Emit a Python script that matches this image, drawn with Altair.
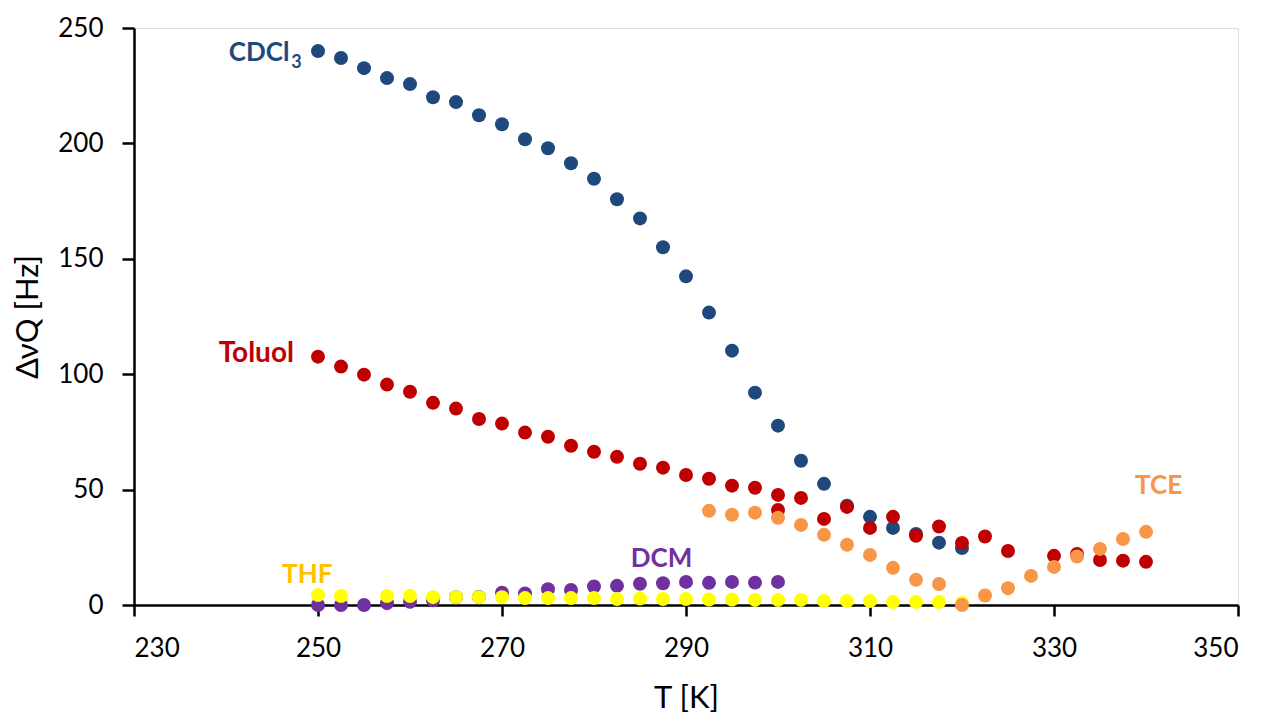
import altair as alt
import pandas as pd

# ---------------- data ----------------
series_names = ["CDCl3", "Toluol", "DCM", "THF", "TCE"]
series_colors = ["#1F497D", "#C00000", "#7030A0", "#FFFF00", "#F79646"]

cdcl3_T = [250, 252.5, 255, 257.5, 260, 262.5, 265, 267.5, 270, 272.5, 275, 277.5,
           280, 282.5, 285, 287.5, 290, 292.5, 295, 297.5, 300, 302.5, 305, 307.5,
           310, 312.5, 315, 317.5, 320]
cdcl3_v = [240, 237, 232.6, 228.3, 225.7, 220, 217.9, 212.2, 208.3, 201.8, 197.9, 191.4,
           184.7, 175.8, 167.5, 155, 142.4, 126.7, 110.2, 92, 77.7, 62.5, 52.5, 43,
           38.2, 33.4, 30.8, 27, 24.7]

toluol_T = [250, 252.5, 255, 257.5, 260, 262.5, 265, 267.5, 270, 272.5, 275, 277.5,
            280, 282.5, 285, 287.5, 290, 292.5, 295, 297.5, 300, 300, 302.5, 305,
            307.5, 310, 312.5, 315, 317.5, 320, 322.5, 325, 330, 332.5, 335, 337.5, 340]
toluol_v = [107.6, 103.3, 99.8, 95.5, 92.4, 87.6, 85.1, 80.6, 78.6, 74.7, 72.9, 69.0,
            66.4, 64.2, 61.2, 59.5, 56.3, 54.7, 51.7, 50.8, 47.7, 41.2, 46.4, 37.3,
            42.5, 33.4, 38.2, 30.0, 34.0, 26.9, 29.7, 23.4, 21.3, 22.1, 19.5, 19.2, 18.7]

dcm_T = [250, 252.5, 255, 257.5, 260, 262.5, 265, 267.5, 270, 272.5, 275, 277.5,
         280, 282.5, 285, 287.5, 290, 292.5, 295, 297.5, 300]
dcm_v = [0, 0, 0, 0.8, 1.4, 2.0, 3.4, 3.5, 5.3, 5.0, 6.8, 6.5,
         8.0, 8.3, 9.2, 9.4, 10.0, 9.6, 10.0, 9.7, 10.0]

thf_T = [250, 252.5, 257.5, 260, 262.5, 265, 267.5, 270, 272.5, 275, 277.5, 280,
         282.5, 285, 287.5, 290, 292.5, 295, 297.5, 300, 302.5, 305, 307.5, 310,
         312.5, 315, 317.5, 320]
thf_v = [4.3, 3.9, 3.9, 3.9, 3.4, 3.4, 3.4, 3.4, 3.0, 3.0, 3.0, 3.0,
         2.6, 2.8, 2.6, 2.6, 2.4, 2.4, 2.2, 2.2, 2.2, 1.7, 1.7, 1.7,
         1.3, 1.3, 1.3, 0.9]

tce_T = [292.5, 295, 297.5, 300, 302.5, 305, 307.5, 310, 312.5, 315, 317.5, 320,
         322.5, 325, 327.5, 330, 332.5, 335, 337.5, 340]
tce_v = [40.8, 39.1, 40.0, 37.8, 34.7, 30.4, 26.1, 21.7, 16.1, 10.9, 9.1, 0.0,
         4.1, 7.3, 12.6, 16.5, 21.0, 24.3, 28.6, 31.7]

label_text = ["CDCl", "3", "Toluol", "TCE", "DCM", "THF"]
label_T = [240.3, 247.1, 239.2, 338.8, 284.0, 246.1]
label_v = [235.7, 232.7, 105.4, 48.1, 16.5, 9.5]
label_color = ["#1F497D", "#1F497D", "#C00000", "#F79646", "#7030A0", "#FFC000"]
label_size = [26, 18, 28, 26, 26, 26]

x_ticks = [230, 250, 270, 290, 310, 330, 350]
y_ticks = [0, 50, 100, 150, 200, 250]

# ---------------- table ----------------
rows = []
idx = 0
for name, Ts, vs in [("CDCl3", cdcl3_T, cdcl3_v), ("Toluol", toluol_T, toluol_v),
                     ("DCM", dcm_T, dcm_v), ("THF", thf_T, thf_v), ("TCE", tce_T, tce_v)]:
    for t, v in zip(Ts, vs):
        rows.append({"T": t, "v": v, "series": name, "idx": idx})
        idx += 1
df = pd.DataFrame(rows)

labels = pd.DataFrame({"text": label_text, "T": label_T, "v": label_v,
                       "color": label_color, "fs": label_size})

FONT = "Lato"

x_enc = alt.X("T:Q", scale=alt.Scale(domain=[230, 350], nice=False, zero=False),
              axis=alt.Axis(values=x_ticks, title="T [K]", grid=False,
                            labelFontSize=26, titleFontSize=31, titleFontWeight="normal",
                            tickSize=11, tickWidth=2.5, domainWidth=2.5,
                            labelPadding=19, titlePadding=22,
                            domainColor="black", tickColor="black",
                            labelColor="black", titleColor="black",
                            labelFont=FONT, titleFont=FONT))
y_enc = alt.Y("v:Q", scale=alt.Scale(domain=[0, 250], nice=False),
              axis=alt.Axis(values=y_ticks, title="ΔνQ [Hz]", grid=False,
                            labelFontSize=26, titleFontSize=31, titleFontWeight="normal",
                            tickSize=12, tickWidth=2.5, domainWidth=2.5,
                            labelPadding=19, titlePadding=13,
                            domainColor="black", tickColor="black",
                            labelColor="black", titleColor="black",
                            labelFont=FONT, titleFont=FONT))

points = alt.Chart(df).mark_circle(size=195, opacity=1).encode(
    x=x_enc,
    y=y_enc,
    color=alt.Color("series:N", scale=alt.Scale(domain=series_names, range=series_colors),
                    legend=None),
    order=alt.Order("idx:Q"),
)

texts = alt.Chart(labels).mark_text(align="left", baseline="alphabetic",
                                    font=FONT, fontWeight="bold").encode(
    x=alt.X("T:Q"),
    y=alt.Y("v:Q"),
    text="text:N",
    color=alt.Color("color:N", scale=None),
    size=alt.Size("fs:Q", scale=None),
)

chart = alt.layer(points, texts).properties(
    width=1104, height=577,
    autosize=alt.AutoSizeParams(type="none"),
    padding={"left": 126, "top": 20, "right": 10, "bottom": 110},
).configure_view(stroke=None).configure(background="white")

chart.save("out.html", embed_options={"renderer": "svg", "actions": False})
